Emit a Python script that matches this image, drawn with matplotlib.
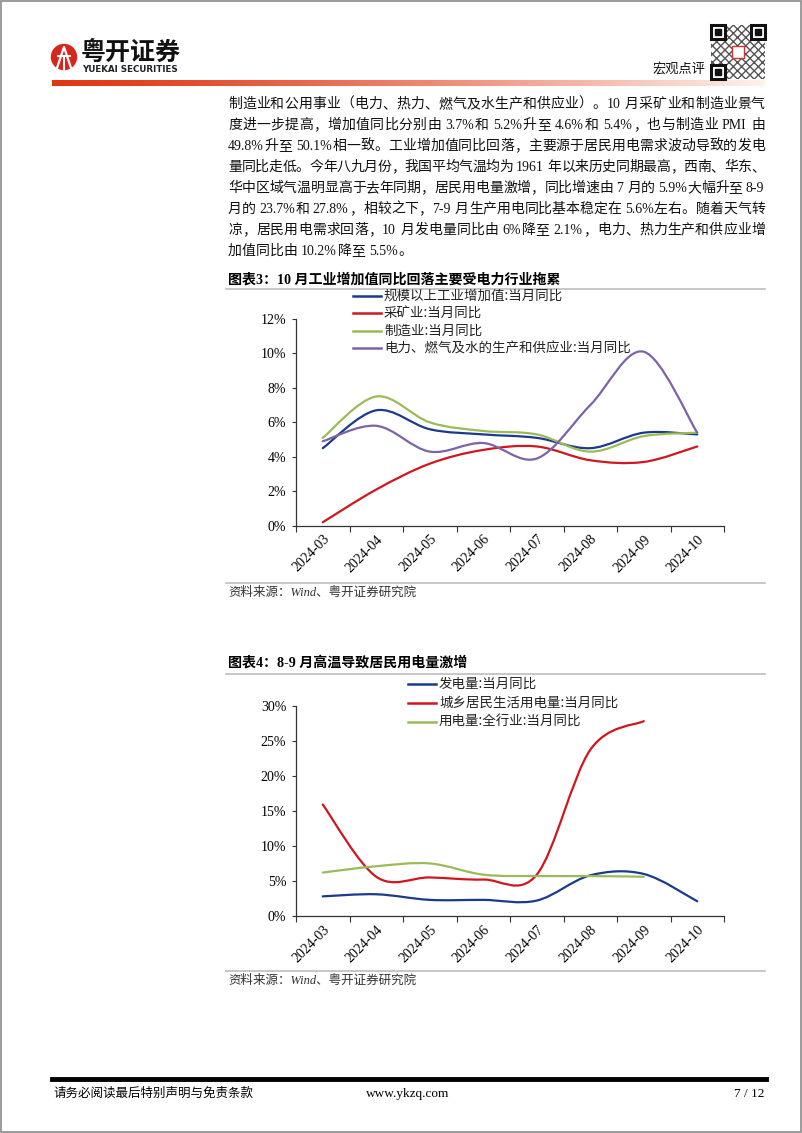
import re
import numpy as np
import matplotlib
matplotlib.use("Agg")
import matplotlib.pyplot as plt
from matplotlib.path import Path
from matplotlib.patches import PathPatch, Rectangle, Circle
from matplotlib.lines import Line2D
from matplotlib.transforms import Affine2D
from matplotlib.ticker import FuncFormatter

# ---------------- data ----------------
months = ["2024-03", "2024-04", "2024-05", "2024-06", "2024-07", "2024-08", "2024-09", "2024-10"]

# chart 3: industrial value added, yoy %
ind_names = ["规模以上工业增加值:当月同比", "采矿业:当月同比", "制造业:当月同比",
             "电力、燃气及水的生产和供应业:当月同比"]
ind_total = [4.5, 6.7, 5.6, 5.3, 5.1, 4.5, 5.4, 5.3]
ind_mining = [0.2, 2.1, 3.6, 4.4, 4.6, 3.8, 3.7, 4.6]
ind_manuf = [5.1, 7.5, 6.0, 5.5, 5.3, 4.3, 5.2, 5.4]
ind_util = [4.9, 5.8, 4.3, 4.8, 3.9, 7.0, 10.1, 5.4]

# chart 4: electricity, yoy %
elec_names = ["发电量:当月同比", "城乡居民生活用电量:当月同比", "用电量:全行业:当月同比"]
elec_gen = [2.8, 3.1, 2.3, 2.3, 2.2, 5.8, 6.0, 2.1]
elec_resid = [15.9, 5.6, 5.5, 5.2, 5.9, 23.7, 27.8]
elec_total = [6.2, 7.1, 7.5, 5.9, 5.7, 5.7, 5.6]

body_lines = [
    "制造业和公用事业（电力、热力、燃气及水生产和供应业）。10 月采矿业和制造业景气",
    "度进一步提高，增加值同比分别由 3.7%和 5.2%升至 4.6%和 5.4%，也与制造业 PMI 由",
    "49.8%升至 50.1%相一致。工业增加值同比回落，主要源于居民用电需求波动导致的发电",
    "量同比走低。今年八九月份，我国平均气温均为 1961 年以来历史同期最高，西南、华东、",
    "华中区域气温明显高于去年同期，居民用电量激增，同比增速由 7 月的 5.9%大幅升至 8-9",
    "月的 23.7%和 27.8%，相较之下，7-9 月生产用电同比基本稳定在 5.6%左右。随着天气转",
    "凉，居民用电需求回落，10 月发电量同比由 6%降至 2.1%，电力、热力生产和供应业增",
    "加值同比由 10.2%降至 5.5%。",
]

BLUE, RED, GREEN, PURPLE = "#1B3A8C", "#D0161E", "#9BBB59", "#7D63A6"

W, H = 802, 1133
plt.rcParams['font.family'] = ['Liberation Serif', 'Noto Sans CJK SC']
fig = plt.figure(figsize=(W / 100, H / 100), dpi=100)
fig.patch.set_facecolor("white")
# pixel coords, origin top-left
T = Affine2D().scale(1 / W, -1 / H).translate(0, 1) + fig.transFigure
CJK = ['Liberation Serif', 'Noto Sans CJK SC']


def smooth_path(ys):
    # Excel-like smoothed line through the points (bezier segments)
    P = np.column_stack([np.arange(len(ys)) + 0.5, ys])
    verts, codes = [P[0]], [Path.MOVETO]
    n = len(P)
    for i in range(n - 1):
        p0 = P[i - 1] if i > 0 else P[i]
        p3 = P[i + 2] if i + 2 < n else P[i + 1]
        verts += [P[i] + (P[i + 1] - p0) / 6, P[i + 1] - (p3 - P[i]) / 6, P[i + 1]]
        codes += [Path.CURVE4] * 3
    return Path(verts, codes)


def make_chart(rect_px, ymax, ystep, series, names, colors, leg_x, leg_y, leg_dy):
    l, t, r, b = rect_px
    ax = fig.add_axes([l / W, 1 - b / H, (r - l) / W, (b - t) / H])
    for ys, c in zip(series, colors):
        ax.add_patch(PathPatch(smooth_path(ys), fill=False, edgecolor=c, lw=1.6,
                               capstyle="round", joinstyle="round"))
    ax.set_xlim(0, len(months))
    ax.set_ylim(0, ymax)
    ax.set_yticks(np.arange(0, ymax + 0.01, ystep))
    ax.yaxis.set_major_formatter(FuncFormatter(lambda v, p: f"{v:.0f}%"))
    ax.set_xticks(np.arange(len(months) + 1))
    ax.set_xticklabels([])
    ax.set_xticks(np.arange(len(months)) + 0.5, minor=True)
    ax.set_xticklabels(months, minor=True, rotation=45, ha="right", va="top",
                       rotation_mode="anchor", fontsize=10, family="Liberation Serif")
    ax.tick_params(axis="x", which="minor", length=0, pad=5)
    ax.tick_params(axis="x", which="major", length=4, width=0.8, color="#333333")
    ax.tick_params(axis="y", length=3, width=0.8, color="#333333", pad=4, labelsize=10)
    for lab in ax.get_yticklabels():
        lab.set_family("Liberation Serif")
    for s in ["top", "right"]:
        ax.spines[s].set_visible(False)
    for s in ["left", "bottom"]:
        ax.spines[s].set_color("#333333")
        ax.spines[s].set_linewidth(0.9)
    ax.patch.set_alpha(0)
    # legend
    for i, (nm, c) in enumerate(zip(names, colors)):
        y = leg_y + i * leg_dy
        fig.add_artist(Line2D([leg_x, leg_x + 28], [y, y], color=c, lw=1.8, transform=T))
        fig.text(leg_x + 31, y, nm, transform=T, fontsize=9.7, va="center", ha="left",
                 family="Noto Sans CJK SC", color="#222222")
    return ax


# ---------------- page frame / header ----------------
fig.add_artist(Rectangle((1, 1), W - 2, H - 2, transform=T, fill=False,
                         edgecolor="#8a8a8a", lw=1.2))

# logo
fig.add_artist(Circle((64, 57), 12.5, transform=T, color="#D7261E"))
fig.add_artist(Line2D([57, 64, 71], [68, 47, 68], transform=T, color="white", lw=1.6))
fig.add_artist(Line2D([58, 70], [56, 56], transform=T, color="white", lw=1.4))
fig.add_artist(Line2D([64, 64], [56, 69], transform=T, color="white", lw=1.4))
fig.text(81, 54, "粤开证券", transform=T, fontsize=18, fontweight="heavy",
         family="Noto Sans CJK SC", va="center", ha="left", color="#111111")
fig.text(82, 70, "YUEKAI SECURITIES", transform=T, fontsize=6.3, fontweight="bold",
         family="DejaVu Sans", va="center", ha="left", color="#222222")

# QR code block
qx, qy, qs = 711, 25, 54
fig.add_artist(Rectangle((qx, qy), qs, qs, transform=T, facecolor="white",
                         edgecolor="#555555", hatch="xxxx", lw=0))
for fx, fy in [(qx, qy), (qx + qs - 14, qy), (qx, qy + qs - 14)]:
    fig.add_artist(Rectangle((fx, fy), 14, 14, transform=T, facecolor="white",
                             edgecolor="#111111", lw=2.2))
    fig.add_artist(Rectangle((fx + 4, fy + 4), 6, 6, transform=T, color="#111111"))
fig.add_artist(Rectangle((qx + 21, qy + 21), 12, 12, transform=T, facecolor="white",
                         edgecolor="#cc3333", lw=1))
fig.text(705, 69, "宏观点评", transform=T, fontsize=9.5, family=CJK,
         va="center", ha="right", color="#111111")

# gradient bar
gax = fig.add_axes([52 / W, 1 - 86 / H, (765 - 52) / W, 6 / H])
grad = np.linspace(0, 1, 256)
c0 = np.array([0.88, 0.22, 0.08])
c1 = np.array([1.0, 0.95, 0.93])
img = c0[None, :] * (1 - grad[:, None] ** 1.3) + c1[None, :] * grad[:, None] ** 1.3
gax.imshow(img[None, :, :], aspect="auto")
gax.axis("off")

# ---------------- body text (justified) ----------------
renderer = fig.canvas.get_renderer()


def put_line(s, x0, x1, y, fs, justify=True):
    toks = re.findall(r"[A-Za-z0-9.%\-]+| |.", s)
    em = fs * 100 / 72
    objs, widths = [], []
    for tk in toks:
        if tk == " ":
            objs.append(None)
            widths.append(em * 0.25)
            continue
        o = fig.text(0, 0, tk, transform=T, fontsize=fs, family=CJK, va="baseline",
                     ha="left", color="#111111")
        if ord(tk[0]) > 0x2E80:
            widths.append(em)
        else:
            widths.append(o.get_window_extent(renderer).width + em * 0.05)
        objs.append(o)
    gap = 0
    if justify and len(toks) > 1:
        gap = (x1 - x0 - sum(widths)) / (len(toks) - 1)
    x = x0
    for o, w in zip(objs, widths):
        if o is not None:
            o.set_position((x, y))
        x += w + gap


for i, line in enumerate(body_lines):
    put_line(line, 228, 765, 108 + i * 21, 10, justify=(i < len(body_lines) - 1))

# ---------------- chart 3 ----------------
fig.text(228, 280, "图表3：10 月工业增加值同比回落主要受电力行业拖累", transform=T,
         fontsize=10.1, fontweight="bold", family=CJK, va="center", ha="left")
fig.add_artist(Line2D([226, 765], [289, 289], transform=T, color="#bdbdbd", lw=1.2))
make_chart((296, 319, 724, 525.7), 12, 2,
           [ind_total, ind_mining, ind_manuf, ind_util], ind_names,
           [BLUE, RED, GREEN, PURPLE], 353, 296, 17.4)
fig.add_artist(Line2D([226, 765], [583, 583], transform=T, color="#bdbdbd", lw=1.2))
fig.text(228, 593, "资料来源：Wind、粤开证券研究院", transform=T, fontsize=9,
         style="italic", family=CJK, va="center", ha="left", color="#333333")

# ---------------- chart 4 ----------------
fig.text(228, 663, "图表4：8-9 月高温导致居民用电量激增", transform=T,
         fontsize=10.1, fontweight="bold", family=CJK, va="center", ha="left")
fig.add_artist(Line2D([226, 765], [674, 674], transform=T, color="#bdbdbd", lw=1.2))
make_chart((296, 705.7, 724, 916), 30, 5,
           [elec_gen, elec_resid, elec_total], elec_names,
           [BLUE, RED, GREEN], 408, 684, 19)
fig.add_artist(Line2D([226, 765], [971, 971], transform=T, color="#bdbdbd", lw=1.2))
fig.text(228, 981, "资料来源：Wind、粤开证券研究院", transform=T, fontsize=9,
         style="italic", family=CJK, va="center", ha="left", color="#333333")

# ---------------- footer ----------------
fig.add_artist(Line2D([52, 766], [1079, 1079], transform=T, color="black", lw=3.5))
fig.text(54, 1094, "请务必阅读最后特别声明与免责条款", transform=T, fontsize=9,
         family=CJK, va="center", ha="left")
fig.text(408, 1094, "www.ykzq.com", transform=T, fontsize=9.5, family=CJK,
         va="center", ha="center")
fig.text(764, 1094, "7 / 12", transform=T, fontsize=9.5, family=CJK,
         va="center", ha="right")

fig.savefig("out.png", dpi=100)
